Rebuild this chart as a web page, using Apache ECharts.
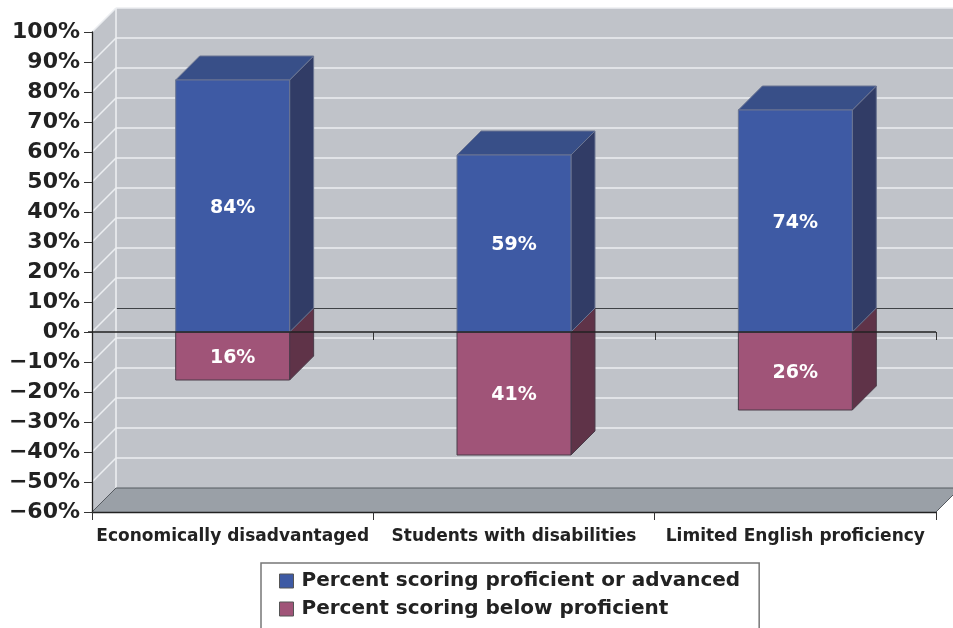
<!DOCTYPE html>
<html>
<head>
<meta charset="utf-8">
<script src="https://cdn.jsdelivr.net/npm/echarts@6/dist/echarts.min.js"></script>
<style>
  html, body { margin: 0; padding: 0; background: #ffffff; }
  #chart { width: 953px; height: 628px; }
</style>
</head>
<body>
<div id="chart"></div>
<script>
// Categories and values (percent of students)
const categories = ['Economically disadvantaged', 'Students with disabilities', 'Limited English proficiency'];
const proficient = [84, 59, 74];
const belowProficient = [16, 41, 26];
const yTicks = [-60, -50, -40, -30, -20, -10, 0, 10, 20, 30, 40, 50, 60, 70, 80, 90, 100];
const seriesNames = ['Percent scoring proficient or advanced', 'Percent scoring below proficient'];

// Depth of the pseudo-3D box (pixels)
const DX = 24, DY = -24;
const FONT = 'DejaVu Sans';

const WALL = '#c0c3c9';
const FLOOR = '#9aa0a7';
const GRID = '#eceef1';

function fmtPct(v) {
  return (v < 0 ? '\u2212' + Math.abs(v) : String(v)) + '%';
}

function renderWalls(params, api) {
  const band = api.size([1, 0])[0];
  const left = api.coord([0, 0])[0] - band / 2;
  const right = api.coord([categories.length - 1, 0])[0] + band / 2;
  const yTop = api.coord([0, yTicks[yTicks.length - 1]])[1];
  const yBot = api.coord([0, yTicks[0]])[1];
  const farRight = right + DX + 60;
  const children = [];
  // back wall
  children.push({ type: 'rect', shape: { x: left + DX, y: yTop + DY, width: farRight - left - DX, height: yBot - yTop },
    style: { fill: WALL, stroke: null } });
  // left side wall
  children.push({ type: 'polygon', shape: { points: [[left, yTop], [left + DX, yTop + DY], [left + DX, yBot + DY], [left, yBot]] },
    style: { fill: WALL, stroke: null } });
  // grid lines on the walls
  yTicks.forEach(function (t) {
    if (t === yTicks[0]) return;
    const y = api.coord([0, t])[1];
    const isZero = t === 0;
    const yb = isZero ? Math.round(y + DY) + 0.5 : y + DY;
    children.push({ type: 'line', shape: { x1: left + DX, y1: yb, x2: farRight, y2: yb },
      style: { stroke: isZero ? '#3f4246' : GRID, lineWidth: isZero ? 1 : 1.6 } });
    children.push({ type: 'line', shape: { x1: left, y1: y, x2: left + DX, y2: y + DY },
      style: { stroke: GRID, lineWidth: 1.6 } });
  });
  // corner between side wall and back wall
  children.push({ type: 'line', shape: { x1: left + DX, y1: yTop + DY, x2: left + DX, y2: yBot + DY },
    style: { stroke: GRID, lineWidth: 1.6 } });
  // floor
  children.push({ type: 'polygon', shape: { points: [[left, yBot], [right, yBot], [right + DX, yBot + DY], [left + DX, yBot + DY]] },
    style: { fill: FLOOR, stroke: null } });
  children.push({ type: 'polygon', shape: { points: [[right, yBot], [farRight, yBot], [farRight, yBot + DY], [right + DX, yBot + DY]] },
    style: { fill: '#ffffff', stroke: null } });
  children.push({ type: 'polyline', shape: { points: [[left, yBot], [left + DX, yBot + DY], [farRight, yBot + DY]] },
    style: { stroke: '#555a60', lineWidth: 1, fill: null } });
  children.push({ type: 'line', shape: { x1: right, y1: yBot, x2: right + DX, y2: yBot + DY },
    style: { stroke: '#555a60', lineWidth: 1 } });
  return { type: 'group', children: children };
}

function boxRenderer(front, top, side, edge) {
  return function (params, api) {
    const ci = api.value(0);
    const v = api.value(1);
    const band = api.size([1, 0])[0];
    const bw = band * 0.405;
    const p0 = api.coord([ci, 0]);
    const p1 = api.coord([ci, v]);
    const x0 = p0[0] - bw / 2, x1 = p0[0] + bw / 2;
    const yA = Math.min(p0[1], p1[1]), yB = Math.max(p0[1], p1[1]);
    const children = [];
    children.push({ type: 'polygon', shape: { points: [[x1, yA], [x1 + DX, yA + DY], [x1 + DX, yB + DY], [x1, yB]] },
      style: { fill: side, stroke: edge, lineWidth: 1 } });
    if (v > 0) {
      children.push({ type: 'polygon', shape: { points: [[x0, yA], [x1, yA], [x1 + DX, yA + DY], [x0 + DX, yA + DY]] },
        style: { fill: top, stroke: edge, lineWidth: 1 } });
    }
    children.push({ type: 'rect', shape: { x: x0, y: yA, width: bw, height: yB - yA },
      style: { fill: front, stroke: edge, lineWidth: 1 } });
    children.push({ type: 'text', style: { text: Math.abs(v) + '%', x: p0[0], y: (yA + yB) / 2 + 2,
      fill: '#ffffff', font: 'bold 19px "' + FONT + '"', align: 'center', verticalAlign: 'middle' } });
    return { type: 'group', children: children };
  };
}

function renderZeroLine(params, api) {
  const band = api.size([1, 0])[0];
  const left = api.coord([0, 0])[0] - band / 2;
  const y = api.coord([0, 0])[1];
  const children = [{ type: 'line', shape: { x1: left - 4, y1: y, x2: left + band * categories.length, y2: y },
    style: { stroke: '#222222', lineWidth: 1.3 } }];
  for (let i = 1; i <= categories.length; i++) {
    const x = Math.round(left + band * i) + 0.5;
    children.push({ type: 'line', shape: { x1: x, y1: y, x2: x, y2: y + 8 }, style: { stroke: '#333', lineWidth: 1 } });
  }
  return { type: 'group', children: children };
}

const chart = echarts.init(document.getElementById('chart'), null, { renderer: 'canvas' });
chart.setOption({
  animation: false,
  backgroundColor: '#ffffff',
  grid: { left: 92, right: 17, top: 32, bottom: 116, containLabel: false },
  legend: {
    type: 'plain',
    orient: 'vertical',
    left: 261, top: 563,
    height: 90,
    padding: [8, 19, 20, 18],
    itemGap: 8,
    itemWidth: 14, itemHeight: 14,
    icon: 'rect',
    borderColor: '#777777', borderWidth: 1.5,
    backgroundColor: '#ffffff',
    itemStyle: { borderColor: '#555555', borderWidth: 1 },
    textStyle: { fontFamily: FONT, fontWeight: 'bold', fontSize: 20, color: '#222222', padding: [0, 0, 0, 3] },
    data: seriesNames
  },
  xAxis: {
    type: 'category',
    data: categories,
    z: 10,
    axisLine: { onZero: false, lineStyle: { color: '#222222', width: 1.3 } },
    axisTick: { show: true, length: 8, lineStyle: { color: '#333333' } },
    axisLabel: { interval: 0, hideOverlap: false, margin: 16, fontFamily: FONT, fontWeight: 'bold', fontSize: 17, color: '#222222' },
    splitLine: { show: false }
  },
  yAxis: {
    type: 'value',
    min: yTicks[0], max: yTicks[yTicks.length - 1], interval: 10,
    z: 10,
    axisLine: { show: true, lineStyle: { color: '#222222', width: 1.3 } },
    axisTick: { show: true, length: 8, lineStyle: { color: '#333333' } },
    axisLabel: { margin: 12, fontFamily: FONT, fontWeight: 'bold', fontSize: 22, color: '#222222', formatter: fmtPct },
    splitLine: { show: false }
  },
  series: [
    { type: 'custom', name: 'walls', silent: true, clip: false, z: 1, renderItem: renderWalls, data: [[0, 0]] },
    { type: 'custom', name: seriesNames[1], clip: false, z: 3, itemStyle: { color: '#a05478' },
      renderItem: boxRenderer('#a05478', '#7a3f5c', '#5f3348', '#4a3a48'),
      data: belowProficient.map(function (v, i) { return [i, -v]; }) },
    { type: 'custom', name: seriesNames[0], clip: false, z: 4, itemStyle: { color: '#3e5aa4' },
      renderItem: boxRenderer('#3e5aa4', '#384f88', '#313c66', '#6b7592'),
      data: proficient.map(function (v, i) { return [i, v]; }) },
    { type: 'custom', name: 'zero', silent: true, clip: false, z: 6, renderItem: renderZeroLine, data: [[0, 0]] }
  ]
});
</script>
</body>
</html>
